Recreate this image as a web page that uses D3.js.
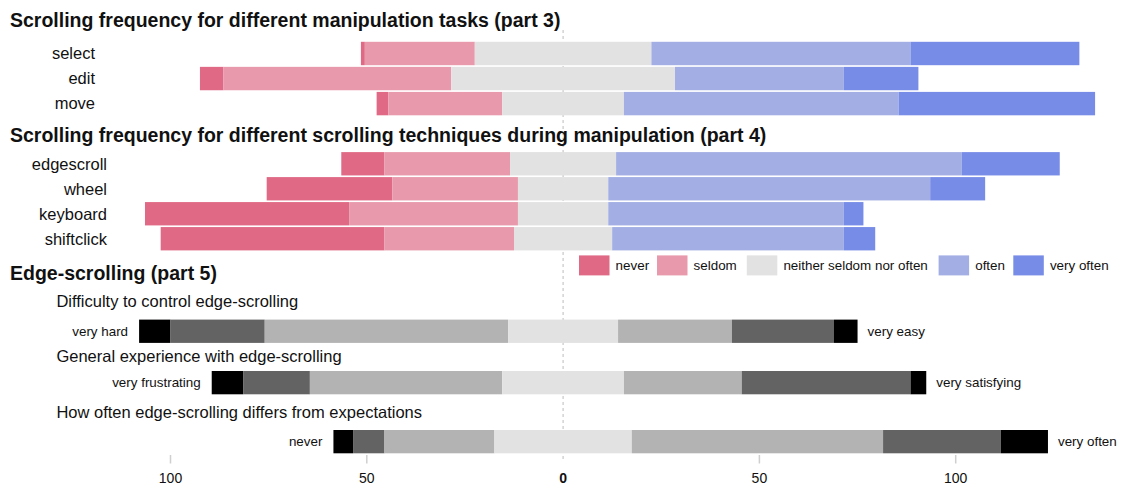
<!DOCTYPE html>
<html>
<head>
<meta charset="utf-8">
<script src="https://cdn.jsdelivr.net/npm/d3@7"></script>
<style>
  html, body { margin: 0; padding: 0; background: #fff; }
  svg { display: block; font-family: "Liberation Sans", Arial, Helvetica, sans-serif; }
</style>
</head>
<body>
<svg id="chart" width="1124" height="484"></svg>
<script>
// ---- data -------------------------------------------------------------
const freqLevels = ["never", "seldom", "neither seldom nor often", "often", "very often"];
const freqColors = ["#E06A86", "#E899AB", "#E2E2E2", "#A2AEE4", "#778CE6"];

// Part 3: manipulation tasks (respondent counts per level)
const taskCategories = ["select", "edit", "move"];
const taskValues = [
  [1, 28, 45, 66, 43],
  [6, 58, 57, 43, 19],
  [3, 29, 31, 70, 50]
];

// Part 4: scrolling techniques during manipulation
const techniqueCategories = ["edgescroll", "wheel", "keyboard", "shiftclick"];
const techniqueValues = [
  [11, 32, 27, 88, 25],
  [32, 32, 23, 82, 14],
  [52, 43, 23, 60, 5],
  [57, 33, 25, 59, 8]
];

// Part 5: edge-scrolling, seven-point rating scales
const edgeQuestions = [
  "Difficulty to control edge-scrolling",
  "General experience with edge-scrolling",
  "How often edge-scrolling differs from expectations"
];
const edgeLowLabels = ["very hard", "very frustrating", "never"];
const edgeHighLabels = ["very easy", "very satisfying", "very often"];
const edgeValues = [
  [8, 24, 62, 28, 29, 26, 6],
  [8, 17, 49, 31, 30, 43, 4],
  [5, 8, 28, 35, 64, 30, 12]
];
const ratingColors = ["#000000", "#636363", "#B3B3B3", "#E2E2E2", "#B3B3B3", "#636363", "#000000"];

const tickValues = [-100, -50, 0, 50, 100];

const panelTitles = [
  "Scrolling frequency for different manipulation tasks (part 3)",
  "Scrolling frequency for different scrolling techniques during manipulation (part 4)",
  "Edge-scrolling (part 5)"
];

// ---- drawing ----------------------------------------------------------
const svg = d3.select("#chart");
const ink = "#111";

const x = d3.scaleLinear().domain([-100, 100]).range([170.5, 955.7]);

// Split each row into segments centred on the neutral level
function segments(values) {
  const mid = (values.length - 1) / 2;
  let pos = -(values[mid] / 2 + d3.sum(values.slice(0, mid)));
  return values.map((v, i) => {
    const s = { i, x0: pos, x1: pos + v };
    pos += v;
    return s;
  });
}

// zero reference line (behind bars)
svg.append("line")
  .attr("x1", x(0)).attr("x2", x(0))
  .attr("y1", 30).attr("y2", 461)
  .attr("stroke", "#c8c8c8")
  .attr("stroke-width", 1.2)
  .attr("stroke-dasharray", "3,3");

function title(text, y) {
  svg.append("text")
    .attr("x", 10).attr("y", y)
    .attr("font-size", 19.5).attr("font-weight", "bold")
    .attr("fill", ink)
    .text(text);
}

function frequencyPanel(cats, rows, range, labelRight) {
  const y = d3.scaleBand().domain(cats).range(range).paddingInner(0.066).paddingOuter(0);
  const g = svg.append("g");
  rows.forEach((vals, r) => {
    const row = g.append("g");
    row.selectAll("rect")
      .data(segments(vals))
      .join("rect")
      .attr("x", d => x(d.x0))
      .attr("width", d => x(d.x1) - x(d.x0))
      .attr("y", y(cats[r]))
      .attr("height", y.bandwidth())
      .attr("fill", d => freqColors[d.i]);
    g.append("text")
      .attr("x", labelRight)
      .attr("y", y(cats[r]) + y.bandwidth() / 2)
      .attr("dy", "0.35em")
      .attr("text-anchor", "end")
      .attr("font-size", 16.5)
      .attr("fill", ink)
      .text(cats[r]);
  });
}

title(panelTitles[0], 27);
frequencyPanel(taskCategories, taskValues, [41.8, 115.3], 95);

title(panelTitles[1], 142);
frequencyPanel(techniqueCategories, techniqueValues, [152.1, 250.4], 107);

title(panelTitles[2], 280);

// legend
const legendX = [579, 657, 746.8, 938.6, 1013.3];
const legend = svg.append("g");
freqLevels.forEach((lvl, i) => {
  legend.append("rect")
    .attr("x", legendX[i]).attr("y", 255.4)
    .attr("width", 30.5).attr("height", 20)
    .attr("fill", freqColors[i]);
  legend.append("text")
    .attr("x", legendX[i] + 36.6).attr("y", 265.4)
    .attr("dy", "0.35em")
    .attr("font-size", 13.4)
    .attr("fill", ink)
    .text(lvl);
});

// part 5 rating bars
const edgeBarTop = [319.6, 371, 430];
const edgeLabelBase = [307, 362, 418];
const barH = 23.3;
edgeValues.forEach((vals, r) => {
  const segs = segments(vals);
  const g = svg.append("g");
  g.append("text")
    .attr("x", 56.4).attr("y", edgeLabelBase[r])
    .attr("font-size", 16.5)
    .attr("fill", ink)
    .text(edgeQuestions[r]);
  g.selectAll("rect")
    .data(segs)
    .join("rect")
    .attr("x", d => x(d.x0))
    .attr("width", d => x(d.x1) - x(d.x0))
    .attr("y", edgeBarTop[r])
    .attr("height", barH)
    .attr("fill", d => ratingColors[d.i]);
  const cy = edgeBarTop[r] + barH / 2;
  g.append("text")
    .attr("x", x(segs[0].x0) - 11).attr("y", cy)
    .attr("dy", "0.35em")
    .attr("text-anchor", "end")
    .attr("font-size", 13.4)
    .attr("fill", ink)
    .text(edgeLowLabels[r]);
  g.append("text")
    .attr("x", x(segs[segs.length - 1].x1) + 10).attr("y", cy)
    .attr("dy", "0.35em")
    .attr("font-size", 13.4)
    .attr("fill", ink)
    .text(edgeHighLabels[r]);
});

// bottom axis: magnitudes on both sides of zero
const axis = svg.append("g");
tickValues.forEach(t => {
  if (t !== 0) {
    axis.append("line")
      .attr("x1", x(t)).attr("x2", x(t))
      .attr("y1", 455).attr("y2", 463.5)
      .attr("stroke", "#cfcfcf")
      .attr("stroke-width", 1.5);
  }
  axis.append("text")
    .attr("x", x(t)).attr("y", 482.5)
    .attr("text-anchor", "middle")
    .attr("font-size", 14)
    .attr("font-weight", t === 0 ? "bold" : "normal")
    .attr("fill", ink)
    .text(Math.abs(t));
});
</script>
</body>
</html>
